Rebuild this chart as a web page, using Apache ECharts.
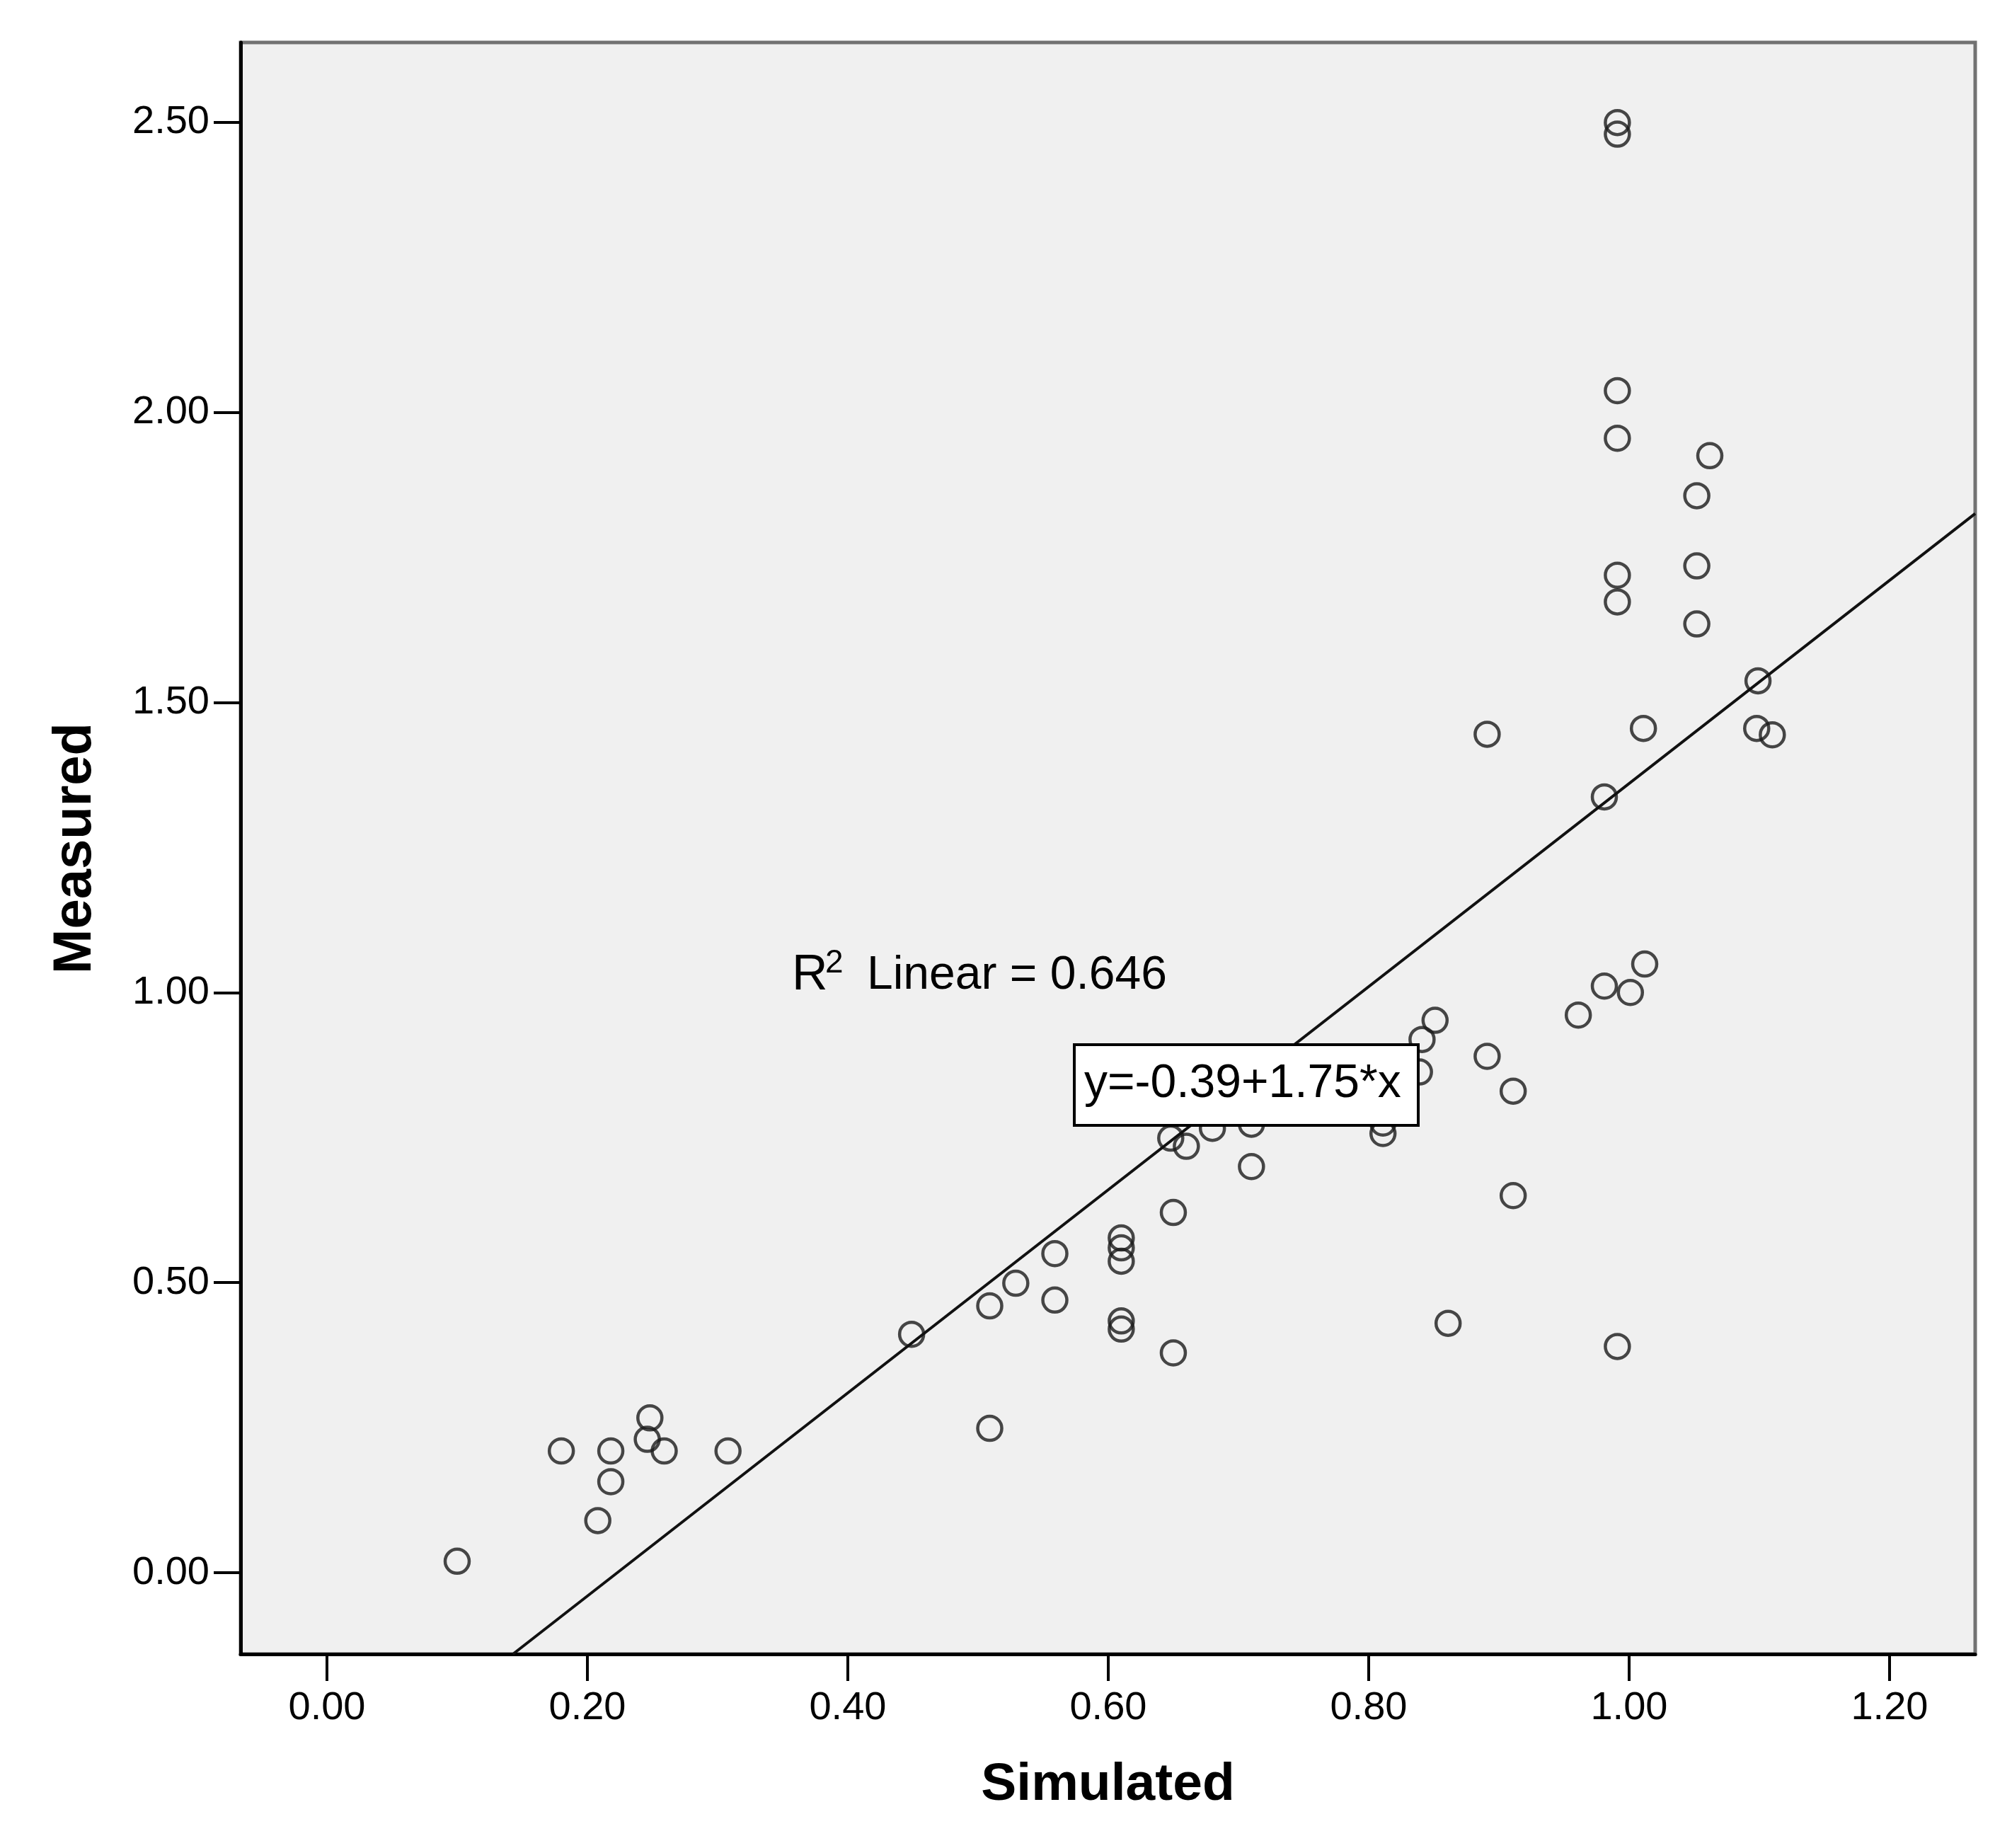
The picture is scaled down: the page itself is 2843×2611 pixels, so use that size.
<!DOCTYPE html>
<html>
<head>
<meta charset="utf-8">
<title>Measured vs Simulated</title>
<script src="https://cdn.jsdelivr.net/npm/echarts@6.0.0/dist/echarts.min.js"></script>
<style>
  html, body { margin: 0; padding: 0; background: #fff; }
  #chart { width: 2843px; height: 2611px; }
</style>
</head>
<body>
<div id="chart"></div>
<script>
// values
var simulated = [0.100, 0.180, 0.218, 0.218, 0.208, 0.248, 0.246, 0.259, 0.308, 0.449,
                 0.509, 0.509, 0.529, 0.559, 0.559, 0.610, 0.610, 0.610, 0.610, 0.610,
                 0.650, 0.650, 0.648, 0.660, 0.680, 0.710, 0.710, 0.811, 0.811, 0.851,
                 0.841, 0.839, 0.891, 0.911, 0.911, 0.861, 0.991, 0.961, 0.981, 1.001,
                 1.012, 0.991, 0.991, 0.991, 0.991, 1.062, 1.052, 1.052, 1.052, 0.991,
                 0.991, 1.099, 1.098, 1.110, 1.011, 0.981, 0.891];
var measured  = [0.020, 0.210, 0.210, 0.157, 0.090, 0.267, 0.230, 0.210, 0.210, 0.411,
                 0.249, 0.460, 0.499, 0.470, 0.550, 0.577, 0.560, 0.537, 0.434, 0.420,
                 0.379, 0.621, 0.749, 0.735, 0.766, 0.700, 0.773, 0.757, 0.775, 0.952,
                 0.919, 0.863, 0.890, 0.830, 0.650, 0.430, 0.390, 0.961, 1.011, 1.000,
                 1.049, 2.499, 2.479, 2.037, 1.955, 1.925, 1.856, 1.735, 1.635, 1.719,
                 1.673, 1.537, 1.455, 1.444, 1.455, 1.337, 1.445];

var xTicks = [0, 0.2, 0.4, 0.6, 0.8, 1.0, 1.2];
var yTicks = [0, 0.5, 1.0, 1.5, 2.0, 2.5];

// fit line y = b0 + b1*x
var fitIntercept = -0.39;
var fitSlope = 1.75;
var r2Value = 0.646;

var xRange = [-0.0663, 1.2658];
var yRange = [-0.140, 2.637];

var font = "'Liberation Sans', Arial, sans-serif";

var points = simulated.map(function (x, i) { return [x, measured[i]]; });

var fitStart = (yRange[0] - fitIntercept) / fitSlope;
var fitLine = [
    [fitStart, fitIntercept + fitSlope * fitStart],
    [xRange[1], fitIntercept + fitSlope * xRange[1]]
];

var myChart = echarts.init(document.getElementById('chart'));

var option = {
    animation: false,
    backgroundColor: '#ffffff',
    grid: {
        left: 340, right: 52, top: 60, bottom: 274,
        show: true,
        backgroundColor: '#f0f0f0',
        borderColor: '#727272',
        borderWidth: 5
    },
    xAxis: {
        type: 'value',
        min: xRange[0], max: xRange[1],
        name: 'Simulated',
        nameLocation: 'middle',
        nameGap: 148,
        nameTextStyle: { fontFamily: font, fontSize: 75, fontWeight: 'bold', color: '#000' },
        axisLine: { show: true, onZero: false, lineStyle: { color: '#000', width: 5 } },
        axisTick: { show: true, customValues: xTicks, length: 38, lineStyle: { color: '#000', width: 4 } },
        axisLabel: {
            customValues: xTicks,
            margin: 49,
            fontFamily: font, fontSize: 56, color: '#000',
            formatter: function (v) { return v.toFixed(2); }
        },
        splitLine: { show: false }
    },
    yAxis: {
        type: 'value',
        min: yRange[0], max: yRange[1],
        name: 'Measured',
        nameLocation: 'middle',
        nameGap: 195,
        nameTextStyle: { fontFamily: font, fontSize: 76, fontWeight: 'bold', color: '#000' },
        axisLine: { show: true, onZero: false, lineStyle: { color: '#000', width: 5 } },
        axisTick: { show: true, customValues: yTicks, length: 38, lineStyle: { color: '#000', width: 4 } },
        axisLabel: {
            customValues: yTicks,
            margin: 44,
            fontFamily: font, fontSize: 56, color: '#000',
            formatter: function (v) { return v.toFixed(2); }
        },
        splitLine: { show: false }
    },
    series: [
        {
            type: 'scatter',
            data: points,
            symbol: 'circle',
            symbolSize: 34,
            itemStyle: { color: 'rgba(0,0,0,0)', borderColor: '#1a1a1a', borderWidth: 4.5 },
            z: 3
        },
        {
            type: 'line',
            data: fitLine,
            symbol: 'none',
            clip: true,
            lineStyle: { color: '#111', width: 4 },
            z: 4
        }
    ],
    graphic: [
        // R² Linear label
        { type: 'text', left: 1119, top: 1344, z: 100, style: { text: 'R', fontFamily: font, fontSize: 70, fill: '#000' } },
        { type: 'text', left: 1166, top: 1338, z: 100, style: { text: '2', fontFamily: font, fontSize: 46, fill: '#000' } },
        { type: 'text', left: 1225, top: 1346, z: 100, style: { text: 'Linear = ' + r2Value.toFixed(3), fontFamily: font, fontSize: 66, fill: '#000' } },
        // fit equation box
        { type: 'rect', left: 1516, top: 1474, z: 100,
          shape: { width: 486, height: 114 },
          style: { fill: '#ffffff', stroke: '#000', lineWidth: 4 } },
        { type: 'text', left: 1532, top: 1499, z: 101,
          style: { text: 'y=' + fitIntercept.toFixed(2) + '+' + fitSlope.toFixed(2) + '*x', fontFamily: font, fontSize: 66, fill: '#000' } }
    ]
};

myChart.setOption(option);
</script>
</body>
</html>
